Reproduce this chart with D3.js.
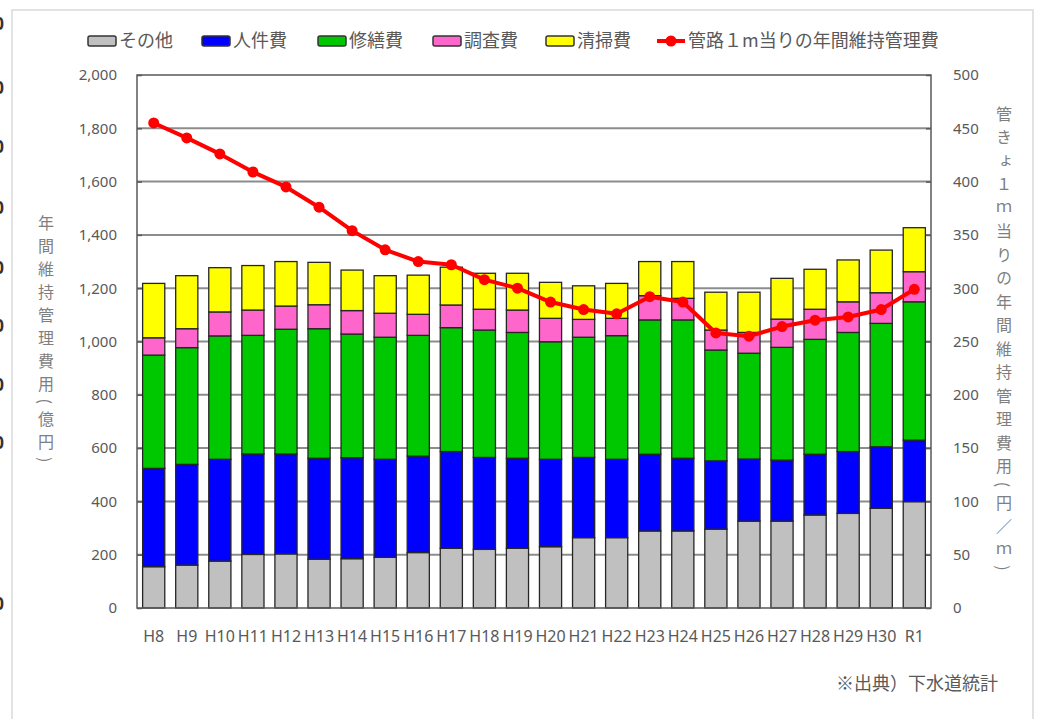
<!DOCTYPE html>
<html>
<head>
<meta charset="utf-8">
<script src="https://cdn.jsdelivr.net/npm/d3@7"></script>
<style>
    body { margin: 0; background: #fff; }
    svg { display: block; }
</style>
</head>
<body>
<div id="canvas"></div>
<script>
"use strict"

let years = ["H8", "H9", "H10", "H11", "H12", "H13", "H14", "H15", "H16", "H17", "H18", "H19",
    "H20", "H21", "H22", "H23", "H24", "H25", "H26", "H27", "H28", "H29", "H30", "R1"]

let seriesNames = ["その他", "人件費", "修繕費", "調査費", "清掃費"]
let seriesColors = ["#c0c0c0", "#0000ff", "#00c800", "#ff66cc", "#ffff00"]
let lineName = "管路１m当りの年間維持管理費"

// 億円
let other = [155, 161, 176, 201, 203, 183, 185, 190, 208, 224, 220, 224, 230, 264, 264, 289, 289, 296, 326, 326, 349, 355, 374, 399]
let labor = [369, 378, 382, 377, 375, 379, 379, 368, 362, 363, 345, 338, 328, 301, 294, 288, 273, 256, 233, 229, 228, 232, 231, 231]
let repair = [425, 438, 463, 445, 468, 486, 464, 458, 453, 465, 478, 472, 441, 451, 464, 504, 519, 416, 397, 423, 431, 447, 463, 519]
let survey = [65, 71, 90, 95, 87, 90, 88, 90, 79, 85, 78, 84, 88, 67, 65, 91, 81, 75, 78, 106, 113, 115, 115, 113]
let cleaning = [204, 199, 166, 167, 167, 159, 152, 141, 147, 142, 135, 138, 135, 126, 131, 128, 138, 142, 151, 153, 150, 157, 160, 165]

// 円/m
let costPerMeter = [455, 441, 426, 409, 395, 376, 354, 336, 325, 322, 308, 300, 287, 280, 276, 292, 287, 258, 255, 264, 270, 273, 280, 299]

let leftTicks = [0, 200, 400, 600, 800, 1000, 1200, 1400, 1600, 1800, 2000]
let rightTicks = [0, 50, 100, 150, 200, 250, 300, 350, 400, 450, 500]

let leftTitle = "年間維持管理費用(億円)"
let rightTitle = "管きょ１ｍ当りの年間維持管理費用(円／ｍ)"
let sourceNote = "※出典）下水道統計"

let svgWidth = 1037
let svgHeight = 719

let plot = { left: 137, right: 931, top: 75, bottom: 608 }

let textFont = "'Noto Sans CJK JP', 'Noto Sans', sans-serif"
let numFont = "'Noto Sans', 'Open Sans', sans-serif"
let textColor = "#595959"

let svg = d3.select("#canvas")
    .append("svg")
    .attr("width", svgWidth)
    .attr("height", svgHeight)

svg.append("rect")
    .attr("width", svgWidth)
    .attr("height", svgHeight)
    .attr("fill", "#fff")

// outer frame of the pasted chart
svg.append("path")
    .attr("d", `M12,${svgHeight} V10 H1033 V${svgHeight}`)
    .attr("fill", "none")
    .attr("stroke", "#d9d9d9")
    .attr("stroke-width", 1.5)

// cut-off digits of a neighbouring picture at the left edge
let edgeMarks = [24, 88, 147, 208, 268, 326, 385, 443, 604]
svg.selectAll("text.edge")
    .data(edgeMarks)
    .join("text")
    .classed("edge", true)
    .attr("x", 4)
    .attr("y", function (d) { return d })
    .attr("dy", "0.35em")
    .attr("text-anchor", "end")
    .attr("font-family", numFont)
    .attr("font-weight", "bold")
    .attr("font-size", 17)
    .attr("fill", "#333")
    .text("0")

let table = years.map(function (year, i) {
    return {
        year: year,
        "その他": other[i],
        "人件費": labor[i],
        "修繕費": repair[i],
        "調査費": survey[i],
        "清掃費": cleaning[i]
    }
})

let xScale = d3.scaleBand()
    .domain(years)
    .range([plot.left, plot.right])
    .paddingInner(0.33)
    .paddingOuter(0.17)

let yLeft = d3.scaleLinear()
    .domain([0, 2000])
    .range([plot.bottom, plot.top])

let yRight = d3.scaleLinear()
    .domain([0, 500])
    .range([plot.bottom, plot.top])

// grid lines
svg.append("g")
    .selectAll("line")
    .data(leftTicks.slice(1, -1))
    .join("line")
    .attr("x1", plot.left)
    .attr("x2", plot.right)
    .attr("y1", function (d) { return yLeft(d) })
    .attr("y2", function (d) { return yLeft(d) })
    .attr("stroke", "#8c8c8c")
    .attr("stroke-width", 2)

// stacked bars
let stacked = d3.stack().keys(seriesNames)(table)

svg.append("g")
    .selectAll("g")
    .data(stacked)
    .join("g")
    .attr("fill", function (d, i) { return seriesColors[i] })
    .selectAll("rect")
    .data(function (d) { return d })
    .join("rect")
    .attr("x", function (d) { return xScale(d.data.year) })
    .attr("y", function (d) { return yLeft(d[1]) })
    .attr("width", xScale.bandwidth())
    .attr("height", function (d) { return yLeft(d[0]) - yLeft(d[1]) })
    .attr("stroke", "#262626")
    .attr("stroke-width", 1.3)

// plot frame
svg.append("rect")
    .attr("x", plot.left)
    .attr("y", plot.top)
    .attr("width", plot.right - plot.left)
    .attr("height", plot.bottom - plot.top)
    .attr("fill", "none")
    .attr("stroke", "#595959")
    .attr("stroke-width", 1.5)

// line on right axis
let linePath = d3.line()
    .x(function (d, i) { return xScale(years[i]) + xScale.bandwidth() / 2 })
    .y(function (d) { return yRight(d) })

svg.append("path")
    .datum(costPerMeter)
    .attr("d", linePath)
    .attr("fill", "none")
    .attr("stroke", "#ff0000")
    .attr("stroke-width", 4)
    .attr("stroke-linejoin", "round")

svg.append("g")
    .selectAll("circle")
    .data(costPerMeter)
    .join("circle")
    .attr("cx", function (d, i) { return xScale(years[i]) + xScale.bandwidth() / 2 })
    .attr("cy", function (d) { return yRight(d) })
    .attr("r", 5.5)
    .attr("fill", "#ff0000")

// axes
function styleAxis(g, size) {
    g.select(".domain").remove()
    g.selectAll(".tick line").attr("stroke", "#595959").attr("stroke-width", 1.5)
    g.selectAll(".tick text")
        .attr("fill", textColor)
        .attr("font-family", numFont)
        .attr("font-size", size)
}

svg.append("g")
    .attr("transform", `translate(${plot.left},0)`)
    .call(d3.axisLeft(yLeft)
        .tickValues(leftTicks)
        .tickFormat(d3.format(","))
        .tickSizeInner(-5)
        .tickSizeOuter(0)
        .tickPadding(20))
    .call(styleAxis, 15)

svg.append("g")
    .attr("transform", `translate(${plot.right},0)`)
    .call(d3.axisRight(yRight)
        .tickValues(rightTicks)
        .tickSizeInner(-5)
        .tickSizeOuter(0)
        .tickPadding(22))
    .call(styleAxis, 15)

svg.append("g")
    .attr("transform", `translate(0,${plot.bottom})`)
    .call(d3.axisBottom(xScale)
        .tickSize(0)
        .tickPadding(23))
    .call(styleAxis, 16)

// axis titles (vertical)
svg.append("text")
    .attr("x", 46)
    .attr("y", 342)
    .attr("text-anchor", "middle")
    .style("writing-mode", "vertical-rl")
    .style("letter-spacing", "7px")
    .attr("font-family", textFont)
    .attr("font-size", 16)
    .attr("fill", "#7f7f7f")
    .text(leftTitle)

svg.append("text")
    .attr("x", 1004)
    .attr("y", 342)
    .attr("text-anchor", "middle")
    .style("writing-mode", "vertical-rl")
    .style("letter-spacing", "7.5px")
    .attr("font-family", textFont)
    .attr("font-size", 16)
    .attr("fill", "#7f7f7f")
    .text(rightTitle)

// legend
let legendX = [88, 202, 318, 433, 546]
let legendY = 41

let legend = svg.append("g")

legend.selectAll("rect")
    .data(seriesNames)
    .join("rect")
    .attr("x", function (d, i) { return legendX[i] })
    .attr("y", legendY - 5)
    .attr("width", 28)
    .attr("height", 10)
    .attr("rx", 2)
    .attr("fill", function (d, i) { return seriesColors[i] })
    .attr("stroke", "#333")
    .attr("stroke-width", 1.5)

legend.selectAll("text.item")
    .data(seriesNames)
    .join("text")
    .classed("item", true)
    .attr("x", function (d, i) { return legendX[i] + 31 })
    .attr("y", legendY)
    .attr("dy", "0.35em")
    .attr("font-family", textFont)
    .attr("font-size", 18)
    .attr("fill", textColor)
    .text(function (d) { return d })

legend.append("line")
    .attr("x1", 657)
    .attr("x2", 685)
    .attr("y1", legendY)
    .attr("y2", legendY)
    .attr("stroke", "#ff0000")
    .attr("stroke-width", 4)

legend.append("circle")
    .attr("cx", 671)
    .attr("cy", legendY)
    .attr("r", 5.5)
    .attr("fill", "#ff0000")

legend.append("text")
    .attr("x", 688)
    .attr("y", legendY)
    .attr("dy", "0.35em")
    .attr("font-family", textFont)
    .attr("font-size", 18)
    .attr("fill", textColor)
    .text(lineName)

// source note
svg.append("text")
    .attr("x", 998)
    .attr("y", 684)
    .attr("dy", "0.35em")
    .attr("text-anchor", "end")
    .attr("font-family", textFont)
    .attr("font-size", 18)
    .attr("fill", textColor)
    .text(sourceNote)
</script>
</body>
</html>
